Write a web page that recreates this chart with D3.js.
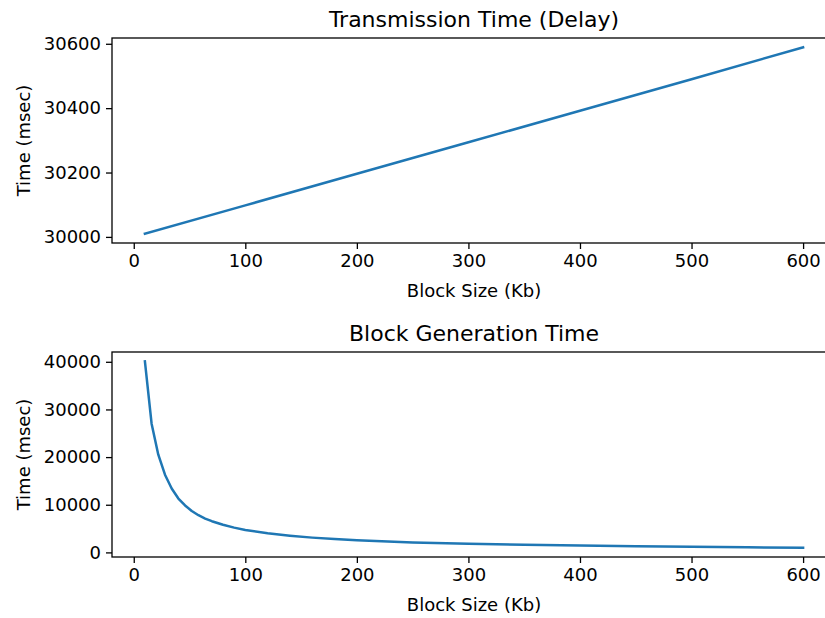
<!DOCTYPE html>
<html>
<head>
<meta charset="utf-8">
<script src="https://cdn.jsdelivr.net/npm/d3@7"></script>
<style>
  body { margin: 0; background: #fff; }
  svg text { font-family: "DejaVu Sans", sans-serif; fill: #000; }
</style>
</head>
<body>
<div id="chart"></div>
<script>
// block sizes (Kb) and read-off values
const delaySizes = [10, 100, 200, 300, 400, 500, 600];
const delayTimes = [30010, 30098, 30196, 30294, 30392, 30490, 30589];

const genSizes = [10, 16, 22, 28, 34, 40, 46, 52, 58, 64, 70, 80, 90, 100, 120, 140, 160, 180, 200, 250, 300, 350, 400, 450, 500, 550, 600];
const genTimes = [40100, 27000, 20500, 16300, 13400, 11300, 9850, 8700, 7800, 7100, 6550, 5800, 5200, 4700, 4000, 3500, 3100, 2800, 2550, 2100, 1800, 1600, 1430, 1280, 1160, 1070, 990];

const xTicks = [0, 100, 200, 300, 400, 500, 600];
const delayTicks = [30000, 30200, 30400, 30600];
const genTicks = [0, 10000, 20000, 30000, 40000];

const W = 825, H = 618;
const left = 112, right = 836;

const svg = d3.select("#chart").append("svg")
  .attr("width", W)
  .attr("height", H);

// matplotlib style 5% padding
function padded(vals) {
  const lo = d3.min(vals), hi = d3.max(vals), p = (hi - lo) * 0.05;
  return [lo - p, hi + p];
}

function panel(top, bottom, xs, ys, yTicks, title) {
  const x = d3.scaleLinear().domain(padded(xs)).range([left, right]);
  const y = d3.scaleLinear().domain(padded(ys)).range([bottom, top]);
  const g = svg.append("g");

  // line
  const line = d3.line()
    .x((d, i) => x(xs[i]))
    .y(d => y(d));
  g.append("path")
    .datum(ys)
    .attr("d", line)
    .attr("fill", "none")
    .attr("stroke", "#1f77b4")
    .attr("stroke-width", 2.5)
    .attr("stroke-linejoin", "round")
    .attr("stroke-linecap", "square");

  // axes
  const xa = g.append("g")
    .attr("transform", "translate(0," + bottom + ")")
    .call(d3.axisBottom(x).tickValues(xTicks).tickSize(6).tickPadding(5).tickSizeOuter(0));
  const ya = g.append("g")
    .attr("transform", "translate(" + left + ",0)")
    .call(d3.axisLeft(y).tickValues(yTicks).tickFormat(d3.format("d")).tickSize(6).tickPadding(5).tickSizeOuter(0));
  [xa, ya].forEach(a => {
    a.select(".domain").remove();
    a.selectAll(".tick line").attr("stroke", "#000").attr("stroke-width", 1.3);
    a.selectAll(".tick text").style("font-size", "18px").attr("fill", "#1a1a1a");
  });

  // frame
  g.append("rect")
    .attr("x", left).attr("y", top)
    .attr("width", right - left).attr("height", bottom - top)
    .attr("fill", "none")
    .attr("stroke", "#000")
    .attr("stroke-width", 1.3);

  // labels
  g.append("text")
    .attr("x", (left + right) / 2)
    .attr("y", top - 11)
    .attr("text-anchor", "middle")
    .style("font-size", "22px")
    .attr("fill", "#1a1a1a")
    .text(title);
  g.append("text")
    .attr("x", (left + right) / 2)
    .attr("y", bottom + 54)
    .attr("text-anchor", "middle")
    .style("font-size", "18px")
    .attr("fill", "#1a1a1a")
    .text("Block Size (Kb)");
  g.append("text")
    .attr("transform", "translate(30," + (top + bottom) / 2 + ") rotate(-90)")
    .attr("text-anchor", "middle")
    .style("font-size", "18px")
    .attr("fill", "#1a1a1a")
    .text("Time (msec)");
}

panel(38, 243, delaySizes, delayTimes, delayTicks, "Transmission Time (Delay)");
panel(352, 557, genSizes, genTimes, genTicks, "Block Generation Time");
</script>
</body>
</html>
